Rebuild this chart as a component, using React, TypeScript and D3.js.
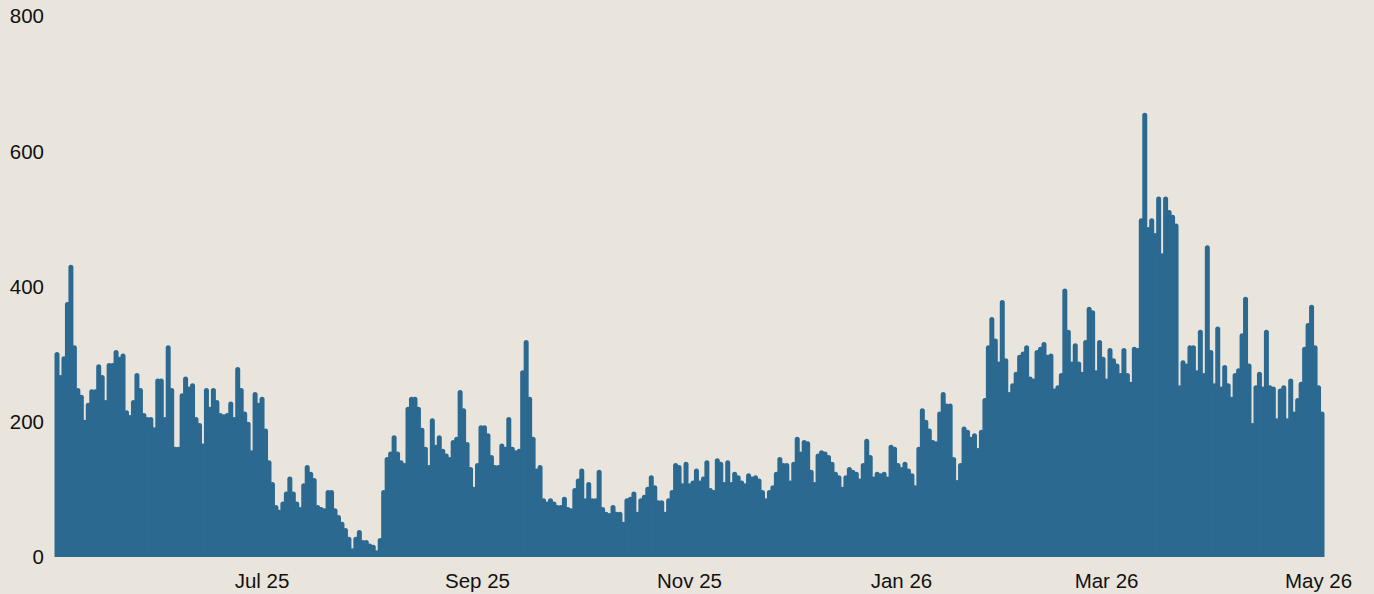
import React from "react";
import * as d3 from "d3";

// Daily counts, starting 3 May 2025 in consecutive blocks
const startDate = "2025-05-03";
const seg01 = [303, 269, 297, 377, 432, 313, 250, 240, 203, 228, 248, 248, 285, 269, 232, 287, 287, 306, 296, 301, 217, 210, 232, 272, 250, 213, 207, 207, 192, 264];
const seg02 = [264, 207, 313, 250, 163, 163, 242, 267, 252, 257, 207, 198, 168, 250, 222, 250, 232, 213, 211, 213, 230, 207, 281, 250, 215, 200, 158, 244, 228, 237];
const seg03 = [190, 143, 111, 77, 70, 82, 97, 119, 97, 82, 74, 109, 136, 126, 117, 77, 74, 72, 99, 99, 72, 62, 52, 43, 30, 13, 30, 40, 25, 25, 20];
const seg04 = [18, 10, 28, 99, 148, 156, 180, 156, 143, 139, 222, 237, 237, 222, 191, 163, 136, 205, 166, 180, 160, 153, 148, 173, 178, 247, 220, 170, 133, 104];
const seg05 = [139, 195, 195, 183, 151, 136, 136, 168, 163, 207, 163, 158, 160, 276, 321, 237, 178, 131, 136, 87, 82, 87, 82, 77, 77, 89, 74, 72, 102, 116, 131];
const seg06 = [87, 111, 87, 87, 129, 74, 67, 65, 77, 67, 67, 52, 87, 89, 97, 67, 87, 92, 104, 121, 106, 84, 84, 67, 87, 99, 139, 136, 109, 141, 109];
const seg07 = [113, 131, 113, 119, 143, 102, 99, 146, 141, 111, 143, 111, 126, 121, 113, 109, 124, 119, 121, 116, 99, 87, 99, 106, 126, 148, 139, 139, 113, 141, 178];
const seg08 = [156, 173, 171, 129, 111, 153, 158, 156, 151, 141, 126, 121, 104, 121, 133, 129, 126, 116, 139, 175, 151, 119, 126, 124, 126, 119, 166, 163, 139, 133];
const seg09 = [141, 131, 124, 106, 163, 220, 203, 190, 173, 171, 215, 244, 227, 227, 148, 114, 139, 193, 188, 178, 183, 161, 188, 235, 313, 355, 323, 289, 380, 294];
const seg10 = [244, 257, 274, 299, 304, 313, 267, 264, 306, 311, 318, 299, 301, 249, 254, 272, 397, 336, 289, 316, 289, 274, 321, 370, 365, 276, 321, 296, 264, 309];
const seg11 = [294, 286, 272, 309, 272, 259, 311, 309, 501, 657, 488, 501, 479, 533, 449, 533, 513, 506, 493, 254, 291, 286, 313, 313, 276, 336, 272, 461, 306, 257, 341];
const seg12 = [252, 284, 257, 237, 272, 279, 331, 385, 286, 198, 254, 274, 252, 336, 254, 252, 205, 249, 254, 205, 264, 215, 235, 259, 311, 346, 373, 313, 254, 215];

const yTickValues = [0, 200, 400, 600, 800];
const xTickDates = ["2025-07-01", "2025-09-01", "2025-11-01", "2026-01-01", "2026-03-01", "2026-05-01"];

const W = 1374;
const H = 594;
const BG = "#EAE5DC";
const BAR = "#2B6991";
const FONT = "'Liberation Sans', Arial, Helvetica, sans-serif";

export default function App() {
  const values = [...seg01, ...seg02, ...seg03, ...seg04, ...seg05, ...seg06, ...seg07, ...seg08, ...seg09, ...seg10, ...seg11, ...seg12];
  const parse = d3.utcParse("%Y-%m-%d");
  const start = parse(startDate) as Date;
  const data = values.map((v, i) => ({ date: d3.utcDay.offset(start, i), value: v }));
  const end = data[data.length - 1].date;

  const x = d3.scaleUtc().domain([start, end]).range([57, 1322]);
  const y = d3.scaleLinear().domain([0, 800]).range([557, 16]);
  const fmt = d3.utcFormat("%b %y");
  const bw = 5;

  return (
    <svg
      width={W}
      height={H}
      style={{ position: "absolute", left: 0, top: 0, display: "block" }}
      fontFamily={FONT}
    >
      <rect x={0} y={0} width={W} height={H} fill={BG} />
      <defs>
        <clipPath id="plotclip">
          <rect x={0} y={0} width={W} height={y(0)} />
        </clipPath>
      </defs>
      <g clipPath="url(#plotclip)">
        {data.map((d, i) => (
          <line
            key={i}
            x1={x(d.date)}
            x2={x(d.date)}
            y1={y(0) + bw}
            y2={y(d.value) + bw / 2}
            stroke={BAR}
            strokeWidth={bw}
            strokeLinecap="round"
          />
        ))}
      </g>
      <g>
        {yTickValues.map((t) => (
          <text
            key={t}
            x={44}
            y={y(t)}
            dy="0.36em"
            textAnchor="end"
            fontSize={20.5}
            fill="#111"
          >
            {t}
          </text>
        ))}
      </g>
      <g>
        {xTickDates.map((s) => {
          const dt = parse(s) as Date;
          return (
            <text
              key={s}
              x={x(dt)}
              y={588}
              textAnchor="middle"
              fontSize={20.5}
              fill="#111"
            >
              {fmt(dt)}
            </text>
          );
        })}
      </g>
    </svg>
  );
}
